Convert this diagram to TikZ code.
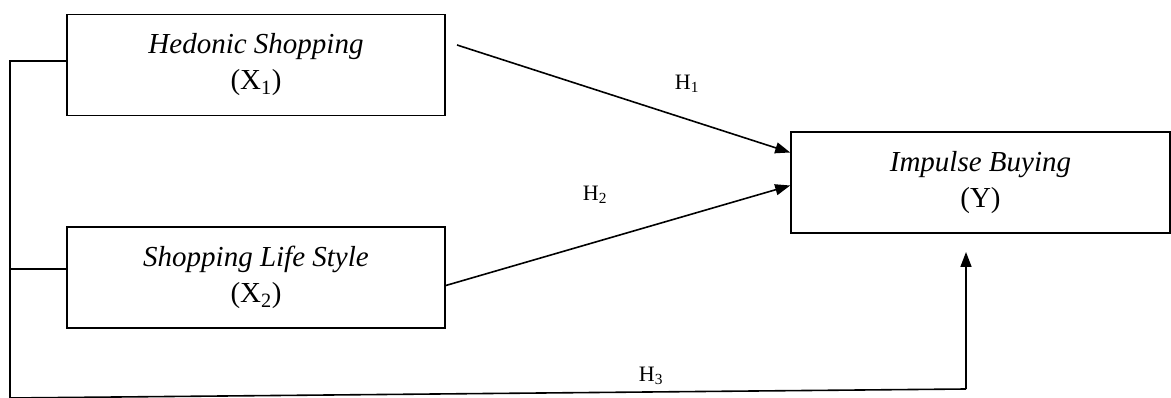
\documentclass[tikz,border=0pt]{standalone}
\usepackage{fontspec}
\setmainfont{Liberation Serif}
\usetikzlibrary{arrows.meta,calc}
\begin{document}
\begin{tikzpicture}[x=1pt,y=-1pt,
  varbox/.style={draw,line width=1.6pt,rectangle,minimum width=378pt,minimum height=101pt,
    align=center,font=\fontsize{29}{36}\selectfont,inner sep=0pt},
  conn/.style={line width=1.6pt},
  arr/.style={line width=1.6pt,-{Triangle[length=15pt,width=11pt]}},
  hlab/.style={font=\fontsize{22}{24}\selectfont,inner sep=0pt}]
\useasboundingbox (0,0) rectangle (1171,398);
\node[varbox] (X1) at (256,65) {\textit{Hedonic Shopping}\\(X\textsubscript{1})};
\node[varbox] (X2) at (256,277.5) {\textit{Shopping Life Style}\\(X\textsubscript{2})};
\node[varbox,minimum width=379pt] (Y) at (980.5,182.5) {\textit{Impulse Buying}\\(Y)};
\coordinate (top) at (10,61);
\coordinate (mid) at (10,269);
\coordinate (bot) at (10,398);
\coordinate (corner) at (966,389);
\coordinate (h3end) at (966,252);
\coordinate (h1start) at (457,45);
\draw[conn] (top -| X1.west) -- (top) -- (bot) -- (corner);
\draw[conn] (mid) -- (mid -| X2.west);
\draw[arr] (corner) -- (h3end);
\draw[arr] (h1start) -- ($(Y.west)+(0,-30)$);
\draw[arr] ($(X2.east)+(0,8)$) -- ($(Y.west)+(0,3)$);
\node[hlab] (h1) at (687,84) {H\textsubscript{1}};
\node[hlab] (h2) at (595,195) {H\textsubscript{2}};
\node[hlab] (h3) at (651,376) {H\textsubscript{3}};
\end{tikzpicture}
\end{document}
